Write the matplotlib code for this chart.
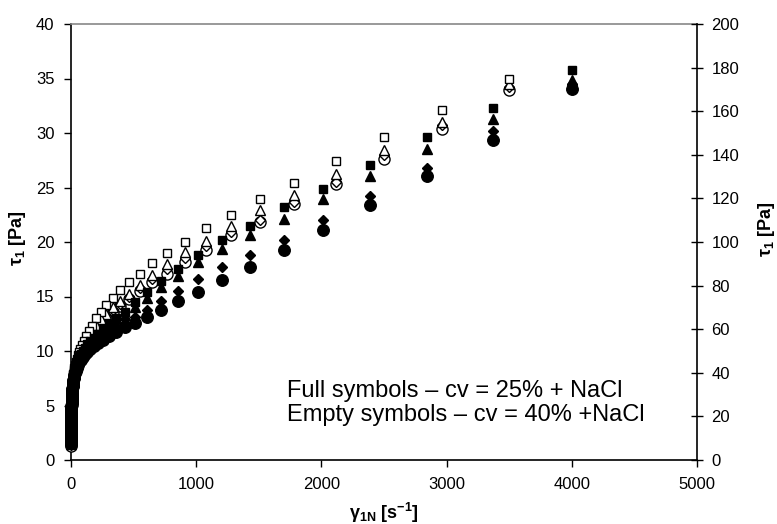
import matplotlib
matplotlib.use("Agg")
import matplotlib.pyplot as plt

plt.rcParams['font.family'] = ['Liberation Sans', 'DejaVu Sans']
plt.rcParams['mathtext.fontset'] = 'custom'
plt.rcParams['mathtext.rm'] = 'Liberation Sans'
plt.rcParams['mathtext.bf'] = 'Liberation Sans:bold'
plt.rcParams['mathtext.it'] = 'Liberation Sans:italic'

# shear rate grids (s^-1)
x_25 = [4000, 3370, 2840, 2390, 2015, 1700, 1430, 1205, 1015, 855, 720, 607, 511, 431,
        363, 306, 258, 217, 183, 154, 130, 109, 92, 77.6, 65, 55, 46, 39, 33, 27.7,
        23.3, 19.6, 16.5, 13.9, 11.7, 9.9, 8.3, 7.0, 5.9, 5.0, 4.2, 3.5, 3.0, 2.5, 2.1,
        1.8, 1.5, 1.25, 1.05, 0.9, 0.75, 0.63, 0.53, 0.45, 0.38, 0.32, 0.27, 0.22, 0.19, 0.16]
x_40 = [3500, 2960, 2500, 2115, 1785, 1510, 1275, 1075, 910, 770, 650, 550, 465, 393,
        332, 281, 237, 200, 169, 143, 121, 102, 86, 73, 61.5, 52, 44, 37, 31.4, 26.5,
        22.4, 18.9, 16, 13.5, 11.4, 9.6, 8.1, 6.9, 5.8, 4.9, 4.1, 3.5, 2.95, 2.5, 2.1,
        1.75, 1.5, 1.25, 1.05, 0.9, 0.75, 0.63, 0.53, 0.45, 0.38, 0.32, 0.27, 0.22, 0.19, 0.16]

# cv = 25% + NaCl (full symbols)
full_square = [35.8, 32.3, 29.6, 27.1, 24.9, 23.2, 21.5, 20.2, 18.8, 17.5, 16.4, 15.4, 14.5, 13.6,
               13.0, 12.5, 12.0, 11.6, 11.2, 10.9, 10.6, 10.3, 10.0, 9.75, 9.5, 9.25, 9.0, 8.75, 8.5, 8.25,
               8.0, 7.8, 7.55, 7.3, 7.1, 6.85, 6.6, 6.4, 6.15, 5.95, 5.7, 5.5, 5.3, 5.1, 4.9,
               4.7, 4.5, 4.3, 4.1, 3.9, 3.7, 3.5, 3.3, 3.1, 2.9, 2.7, 2.5, 2.3, 2.1, 1.9]
full_triangle = [34.85, 31.26, 28.5, 26.05, 23.97, 22.13, 20.6, 19.37, 18.15, 16.9, 15.9, 14.9, 14.07, 13.3,
                 12.7, 12.2, 11.8, 11.4, 11.05, 10.75, 10.45, 10.15, 9.9, 9.65, 9.4, 9.15, 8.9, 8.65, 8.4, 8.15,
                 7.9, 7.7, 7.45, 7.2, 7.0, 6.75, 6.5, 6.3, 6.05, 5.85, 5.6, 5.4, 5.2, 5.0, 4.8,
                 4.6, 4.4, 4.2, 4.0, 3.8, 3.6, 3.4, 3.2, 3.0, 2.8, 2.6, 2.4, 2.2, 2.0, 1.8]
full_diamond = [34.5, 30.2, 26.8, 24.2, 22.04, 20.2, 18.85, 17.75, 16.6, 15.5, 14.6, 13.76, 13.15, 12.6,
                12.1, 11.7, 11.3, 11.0, 10.7, 10.4, 10.15, 9.9, 9.65, 9.4, 9.15, 8.9, 8.65, 8.4, 8.15, 7.9,
                7.7, 7.45, 7.2, 7.0, 6.75, 6.5, 6.3, 6.05, 5.85, 5.6, 5.4, 5.2, 5.0, 4.8, 4.6,
                4.4, 4.2, 4.0, 3.8, 3.6, 3.4, 3.2, 3.0, 2.8, 2.6, 2.4, 2.2, 2.0, 1.85, 1.7]
full_circle = [34.0, 29.4, 26.1, 23.36, 21.12, 19.3, 17.75, 16.5, 15.4, 14.6, 13.76, 13.15, 12.6, 12.17,
               11.75, 11.4, 11.05, 10.75, 10.45, 10.2, 9.95, 9.7, 9.45, 9.2, 8.95, 8.7, 8.45, 8.2, 7.95, 7.7,
               7.5, 7.25, 7.0, 6.8, 6.55, 6.3, 6.1, 5.85, 5.65, 5.4, 5.2, 5.0, 4.8, 4.6, 4.4,
               4.2, 4.0, 3.8, 3.6, 3.4, 3.2, 3.0, 2.8, 2.6, 2.4, 2.2, 2.0, 1.85, 1.7, 1.6]

# cv = 40% + NaCl (empty symbols)
empty_square = [35.0, 32.1, 29.6, 27.4, 25.4, 23.9, 22.5, 21.3, 20.0, 19.0, 18.1, 17.1, 16.3, 15.6,
                14.9, 14.2, 13.6, 13.0, 12.3, 11.8, 11.35, 10.95, 10.55, 10.2, 9.9, 9.6, 9.3, 9.0, 8.7, 8.4,
                8.1, 7.85, 7.6, 7.35, 7.1, 6.85, 6.6, 6.35, 6.1, 5.85, 5.6, 5.35, 5.1, 4.85, 4.6,
                4.35, 4.1, 3.85, 3.6, 3.35, 3.1, 2.85, 2.6, 2.4, 2.2, 2.0, 1.85, 1.7, 1.6, 1.5]
empty_triangle = [34.5, 31.0, 28.4, 26.2, 24.3, 22.9, 21.5, 20.1, 19.06, 18.0, 17.0, 16.1, 15.2, 14.6,
                  14.0, 13.4, 12.9, 12.4, 11.9, 11.45, 11.05, 10.65, 10.3, 9.95, 9.65, 9.35, 9.05, 8.75, 8.45, 8.15,
                  7.9, 7.65, 7.4, 7.15, 6.9, 6.65, 6.4, 6.15, 5.9, 5.65, 5.4, 5.15, 4.9, 4.65, 4.4,
                  4.15, 3.9, 3.65, 3.4, 3.15, 2.9, 2.65, 2.45, 2.25, 2.05, 1.9, 1.75, 1.65, 1.55, 1.45]
empty_diamond = [34.2, 30.7, 27.95, 25.5, 23.66, 22.0, 20.9, 19.6, 18.5, 17.5, 16.6, 15.8, 14.95, 14.35,
                 13.75, 13.2, 12.7, 12.2, 11.75, 11.3, 10.9, 10.5, 10.15, 9.8, 9.5, 9.2, 8.9, 8.6, 8.3, 8.0,
                 7.75, 7.5, 7.25, 7.0, 6.75, 6.5, 6.25, 6.0, 5.75, 5.5, 5.25, 5.0, 4.75, 4.5, 4.25,
                 4.0, 3.75, 3.5, 3.25, 3.0, 2.8, 2.6, 2.4, 2.2, 2.0, 1.85, 1.7, 1.6, 1.5, 1.4]
empty_circle = [33.9, 30.4, 27.6, 25.35, 23.45, 21.8, 20.6, 19.3, 18.15, 17.1, 16.3, 15.5, 14.75, 14.15,
                13.55, 13.0, 12.5, 12.0, 11.55, 11.1, 10.7, 10.3, 9.95, 9.6, 9.3, 9.0, 8.7, 8.4, 8.1, 7.8,
                7.55, 7.3, 7.05, 6.8, 6.55, 6.3, 6.05, 5.8, 5.55, 5.3, 5.05, 4.8, 4.55, 4.3, 4.05,
                3.8, 3.55, 3.3, 3.05, 2.8, 2.6, 2.4, 2.2, 2.0, 1.85, 1.7, 1.6, 1.5, 1.4, 1.3]

x_ticks = [0, 1000, 2000, 3000, 4000, 5000]
y_ticks_left = [0, 5, 10, 15, 20, 25, 30, 35, 40]
y_ticks_right = [0, 20, 40, 60, 80, 100, 120, 140, 160, 180, 200]
note_lines = ["Full symbols \u2013 cv = 25% + NaCl", "Empty symbols \u2013 cv = 40% +NaCl"]

fig = plt.figure(figsize=(7.77, 5.24), dpi=100)
ax = fig.add_axes([71 / 777, 1 - 460 / 524, (697 - 71) / 777, (460 - 24) / 524])

def pts(x, y, marker, ms, filled, z):
    ax.plot(x, y, linestyle='none', marker=marker, markersize=ms,
            markerfacecolor='black' if filled else 'white',
            markeredgecolor='black', markeredgewidth=1.0, clip_on=False, zorder=z)

pts(x_40, empty_circle, 'o', 8.0, False, 3)
pts(x_40, empty_diamond, 'D', 5.0, False, 3.1)
pts(x_40, empty_triangle, '^', 7.0, False, 3.2)
pts(x_40, empty_square, 's', 6.0, False, 3.3)
pts(x_25, full_circle, 'o', 8.3, True, 4)
pts(x_25, full_diamond, 'D', 5.4, True, 4.1)
pts(x_25, full_triangle, '^', 7.5, True, 4.2)
pts(x_25, full_square, 's', 6.3, True, 4.3)

ax.set_xlim(0, 5000)
ax.set_ylim(0, 40)
ax.set_xticks(x_ticks)
ax.set_yticks(y_ticks_left)
ax.tick_params(axis='both', direction='out', length=5, width=1, labelsize=12, pad=7)
for s in ['left', 'bottom']:
    ax.spines[s].set_color('black')
    ax.spines[s].set_linewidth(1.2)
ax.spines['top'].set_color('#888888')
ax.spines['top'].set_linewidth(1.2)
ax.spines['right'].set_visible(False)

ax2 = ax.twinx()
ax2.set_ylim(0, 200)
ax2.set_yticks(y_ticks_right)
ax2.tick_params(axis='y', direction='inout', length=9, width=1, labelsize=12, pad=6)
for s in ['left', 'top', 'bottom']:
    ax2.spines[s].set_visible(False)
ax2.spines['right'].set_color('black')
ax2.spines['right'].set_linewidth(1.2)

ax.set_ylabel('\u03c4$_{\\mathbf{1}}$ [Pa]', fontsize=13, fontweight='bold')
ax.yaxis.set_label_coords(-0.068, 0.51)
ax2.set_ylabel('\u03c4$_{\\mathbf{1}}$ [Pa]', fontsize=13, fontweight='bold', rotation=90)
ax2.yaxis.set_label_coords(1.095, 0.53)
ax.set_xlabel('\u03b3$_{\\mathbf{1N}}$ [s$^{\\mathbf{-1}}$]', fontsize=13, fontweight='bold', labelpad=7)

ax.text(0.345, 0.13, note_lines[0] + "\n" + note_lines[1], transform=ax.transAxes,
        fontsize=17, ha='left', va='center', linespacing=1.12)

fig.savefig('out.png', dpi=100)
